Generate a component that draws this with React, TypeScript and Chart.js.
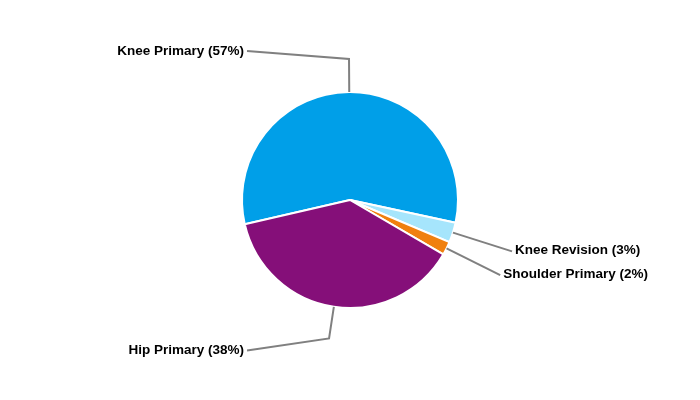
import React, { useEffect, useRef } from "react";
import Chart from "chart.js/auto";

const categories = ["Knee Primary", "Knee Revision", "Shoulder Primary", "Hip Primary"];
const shares = [57, 3, 2, 38];
const sliceColors = ["#009FE8", "#A6E5FC", "#F0800F", "#850F79"];
// per label: [elbow distance beyond radius, horizontal run after elbow, vertical run after elbow, text side]
const leaderLayout: [number, number, number, number][] = [
  [33, -102, -8, -1],
  [62, 0, 0, 1],
  [60, 0, 0, 1],
  [32, -82, 12, -1],
];

const labelPlugin = {
  id: "outerLabels",
  afterDatasetsDraw(chart: any) {
    const ctx = chart.ctx;
    const meta = chart.getDatasetMeta(0);
    ctx.save();
    ctx.strokeStyle = "#808080";
    ctx.lineWidth = 2;
    ctx.font = "bold 13.5px Arial, 'Liberation Sans', sans-serif";
    ctx.fillStyle = "#000000";
    ctx.textBaseline = "middle";
    meta.data.forEach((arc: any, i: number) => {
      const { x, y, startAngle, endAngle, outerRadius } = arc.getProps(
        ["x", "y", "startAngle", "endAngle", "outerRadius"],
        true
      );
      const mid = (startAngle + endAngle) / 2;
      const [ext, dx, dy, side] = leaderLayout[i];
      const x0 = x + Math.cos(mid) * outerRadius;
      const y0 = y + Math.sin(mid) * outerRadius;
      const x1 = x + Math.cos(mid) * (outerRadius + ext);
      const y1 = y + Math.sin(mid) * (outerRadius + ext);
      const x2 = x1 + dx;
      const y2 = y1 + dy;
      ctx.beginPath();
      ctx.moveTo(x0, y0);
      ctx.lineTo(x1, y1);
      if (dx !== 0 || dy !== 0) ctx.lineTo(x2, y2);
      ctx.stroke();
      const text = `${categories[i]} (${shares[i]}%)`;
      ctx.textAlign = side < 0 ? "right" : "left";
      ctx.fillText(text, x2 + side * 3, side < 0 ? y2 : y2 - 1);
    });
    ctx.restore();
  },
};

export default function App() {
  const ref = useRef<HTMLCanvasElement | null>(null);
  useEffect(() => {
    document.body.style.margin = "0";
    const chart = new Chart(ref.current as HTMLCanvasElement, {
      type: "pie",
      data: {
        labels: categories,
        datasets: [
          {
            data: shares,
            backgroundColor: sliceColors,
            borderColor: "#ffffff",
            borderWidth: 2,
          },
        ],
      },
      options: {
        responsive: false,
        animation: false,
        rotation: 257,
        layout: { padding: { top: 91, bottom: 91, left: 241, right: 241 } },
        plugins: { legend: { display: false }, tooltip: { enabled: false } },
      },
      plugins: [labelPlugin],
    });
    return () => chart.destroy();
  }, []);
  return <canvas ref={ref} width={700} height={400} style={{ display: "block" }} />;
}
